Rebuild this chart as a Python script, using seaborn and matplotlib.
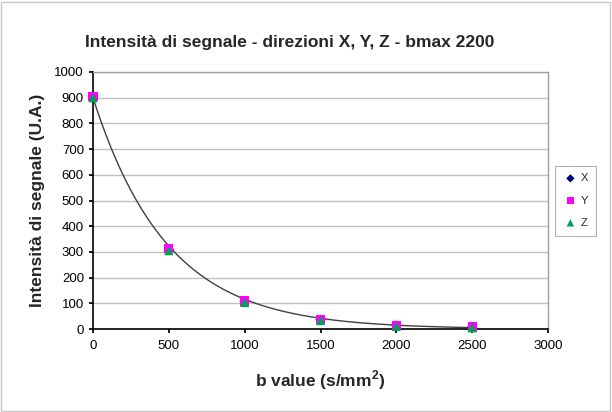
import numpy as np
import pandas as pd
import matplotlib
matplotlib.use("Agg")
import matplotlib.pyplot as plt
import seaborn as sns

b_values = [0, 500, 1000, 1500, 2000, 2500]
x_vals = [903, 310, 107, 36, 13, 7]
y_vals = [905, 313, 109, 38, 14, 8]
z_vals = [900, 305, 103, 33, 10, 5]
series_names = ["X", "Y", "Z"]
# exponential trendline: y = A * exp(-k * b)
trend_amplitude = 900
trend_rate = 0.00205
trend_range = [0, 2500]

colors = {"X": "#000080", "Y": "#FF00FF", "Z": "#00A050"}
markers = {"X": "D", "Y": "s", "Z": "^"}
sizes = {"X": 28, "Y": 44, "Z": 44}

sns.set_theme(style="white")
plt.rcParams["font.family"] = ["Liberation Sans", "DejaVu Sans"]

df = pd.DataFrame({
    "b": b_values * 3,
    "val": x_vals + y_vals + z_vals,
    "serie": ["X"] * 6 + ["Y"] * 6 + ["Z"] * 6,
})

fig = plt.figure(figsize=(6.12, 4.12), dpi=100)
ax = fig.add_axes([93 / 612, 1 - 329 / 412, (548 - 93) / 612, (329 - 72) / 412])

bb = np.linspace(trend_range[0], trend_range[1], 200)
trend = pd.DataFrame({"b": bb, "val": trend_amplitude * np.exp(-trend_rate * bb)})
sns.lineplot(data=trend, x="b", y="val", ax=ax, color="#404040", lw=1.0, legend=False)

for s in series_names:
    sub = df[df["serie"] == s]
    sns.scatterplot(data=sub, x="b", y="val", ax=ax, color=colors[s], marker=markers[s],
                    s=sizes[s], edgecolor="none", label=s, zorder=3, clip_on=False)

ax.set_xlim(0, 3000)
ax.set_ylim(0, 1000)
ax.set_xticks(range(0, 3001, 500))
ax.set_yticks(range(0, 1001, 100))
ax.yaxis.grid(True, color="#C0C0C0", lw=1)
ax.xaxis.grid(False)
ax.tick_params(axis="both", labelsize=9.5, colors="black", length=3, direction="out")
ax.tick_params(axis="x", pad=5)
ax.tick_params(left=True, bottom=True)
for sp in ["left", "bottom"]:
    ax.spines[sp].set_color("black")
    ax.spines[sp].set_linewidth(1.2)
for sp in ["top", "right"]:
    ax.spines[sp].set_color("#A0A0A0")
    ax.spines[sp].set_linewidth(1.0)

ax.set_xlabel("b value (s/mm$^\\mathregular{2}$)", fontsize=12.5, fontweight="bold", labelpad=12)
ax.set_ylabel("Intensità di segnale (U.A.)", fontsize=12.5, fontweight="bold", labelpad=7)
fig.text(290 / 612, 1 - 42 / 412, "Intensità di segnale - direzioni X, Y, Z - bmax 2200",
         ha="center", va="center", fontsize=12.5, fontweight="bold")

leg = ax.legend(loc="center left", bbox_to_anchor=(1.015, 0.5), fontsize=8, frameon=True,
                fancybox=False, edgecolor="#A0A0A0", handletextpad=0.2, borderpad=0.7,
                labelspacing=1.1, handlelength=1.4, markerscale=0.8, borderaxespad=0)
leg.get_frame().set_linewidth(0.8)

fig.patches.append(plt.Rectangle((0.002, 0.002), 0.994, 0.994, transform=fig.transFigure,
                                 fill=False, edgecolor="#C8C8C8", lw=1))

fig.savefig("out.png", dpi=100)
